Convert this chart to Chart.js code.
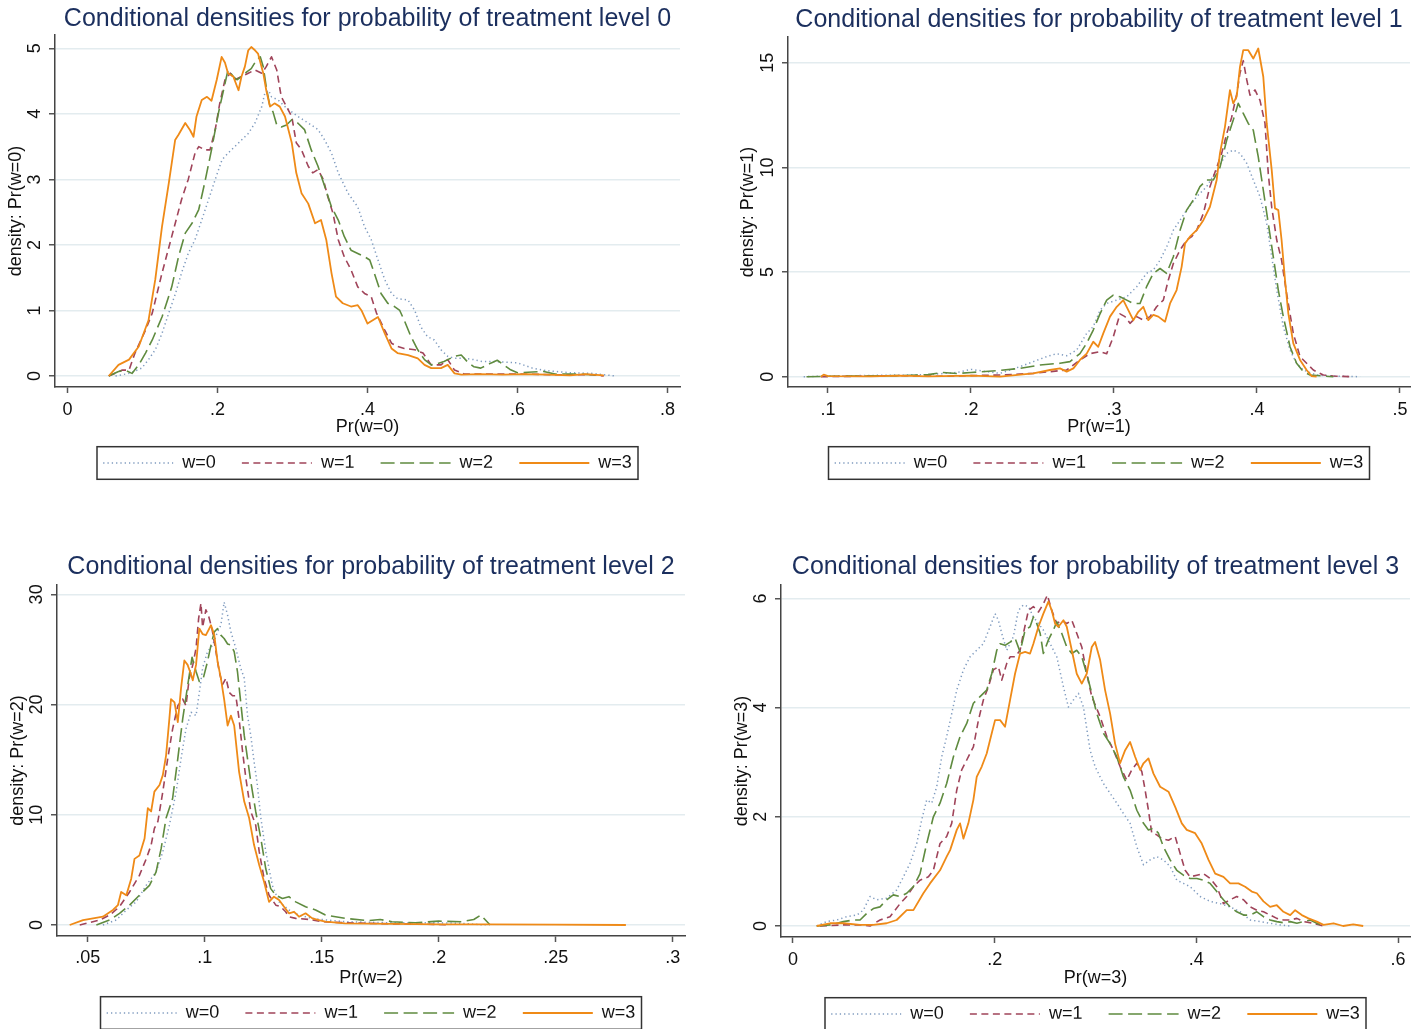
<!DOCTYPE html>
<html><head><meta charset="utf-8">
<script src="https://cdn.jsdelivr.net/npm/chart.js@4.4.1/dist/chart.umd.min.js"></script>
<style>
html,body{margin:0;padding:0;background:#fff;}
body{width:1420px;height:1029px;position:relative;overflow:hidden;}
canvas{position:absolute;}
</style></head><body>
<canvas id="c0" width="715" height="500" style="left:0px;top:0px"></canvas>
<canvas id="c1" width="705" height="500" style="left:715px;top:0px"></canvas>
<canvas id="c2" width="715" height="489" style="left:0px;top:540px"></canvas>
<canvas id="c3" width="705" height="489" style="left:715px;top:540px"></canvas>
<script>
// ---------- texts ----------
const seriesLabels = ['w=0', 'w=1', 'w=2', 'w=3'];
const panelTitles = [
  'Conditional densities for probability of treatment level 0',
  'Conditional densities for probability of treatment level 1',
  'Conditional densities for probability of treatment level 2',
  'Conditional densities for probability of treatment level 3'
];
const xTitles = ['Pr(w=0)', 'Pr(w=1)', 'Pr(w=2)', 'Pr(w=3)'];
const yTitles = ['density: Pr(w=0)', 'density: Pr(w=1)', 'density: Pr(w=2)', 'density: Pr(w=3)'];

// ---------- tick values / labels ----------
const p0XTicks = [0, 0.2, 0.4, 0.6, 0.8];
const p0XTickLabels = ['0', '.2', '.4', '.6', '.8'];
const p0YTicks = [0, 1, 2, 3, 4, 5];
const p0YTickLabels = ['0', '1', '2', '3', '4', '5'];
const p1XTicks = [0.1, 0.2, 0.3, 0.4, 0.5];
const p1XTickLabels = ['.1', '.2', '.3', '.4', '.5'];
const p1YTicks = [0, 5, 10, 15];
const p1YTickLabels = ['0', '5', '10', '15'];
const p2XTicks = [0.05, 0.1, 0.15, 0.2, 0.25, 0.3];
const p2XTickLabels = ['.05', '.1', '.15', '.2', '.25', '.3'];
const p2YTicks = [0, 10, 20, 30];
const p2YTickLabels = ['0', '10', '20', '30'];
const p3XTicks = [0, 0.2, 0.4, 0.6];
const p3XTickLabels = ['0', '.2', '.4', '.6'];
const p3YTicks = [0, 2, 4, 6];
const p3YTickLabels = ['0', '2', '4', '6'];

// ---------- panel 0 : Pr(w=0) ----------
const p0_w0 = [[0.064,0],[0.082,0.04],[0.099,0.12],[0.108,0.25],[0.117,0.4],[0.126,0.65],[0.135,0.96],[0.144,1.26],[0.152,1.57],[0.161,1.87],[0.170,2.08],[0.179,2.38],[0.188,2.69],[0.197,3.0],[0.206,3.3],[0.214,3.4],[0.223,3.5],[0.232,3.6],[0.241,3.7],[0.250,3.86],[0.259,4.11],[0.263,4.31],[0.268,4.36],[0.272,4.26],[0.281,4.21],[0.290,4.11],[0.299,4.03],[0.307,3.96],[0.321,3.86],[0.334,3.76],[0.343,3.6],[0.352,3.4],[0.361,3.1],[0.374,2.79],[0.387,2.58],[0.396,2.28],[0.405,2.08],[0.414,1.77],[0.423,1.47],[0.432,1.26],[0.440,1.18],[0.454,1.16],[0.463,1.0],[0.471,0.75],[0.480,0.6],[0.489,0.55],[0.498,0.4],[0.507,0.3],[0.516,0.27],[0.529,0.27],[0.542,0.25],[0.553,0.22],[0.570,0.22],[0.600,0.2],[0.620,0.12],[0.640,0.08],[0.670,0.05],[0.700,0.04],[0.730,0]];
const p0_w1 = [[0.055,0],[0.073,0.09],[0.082,0.09],[0.090,0.35],[0.104,0.7],[0.113,0.96],[0.126,1.57],[0.139,2.13],[0.152,2.69],[0.161,3.0],[0.170,3.4],[0.175,3.5],[0.183,3.45],[0.190,3.45],[0.197,3.76],[0.203,4.16],[0.210,4.52],[0.217,4.62],[0.223,4.52],[0.232,4.57],[0.241,4.62],[0.250,4.67],[0.259,4.62],[0.265,4.72],[0.272,4.87],[0.279,4.67],[0.285,4.26],[0.292,4.11],[0.299,3.96],[0.305,3.56],[0.312,3.45],[0.321,3.2],[0.327,3.1],[0.334,3.15],[0.341,3.0],[0.347,2.74],[0.354,2.48],[0.361,2.08],[0.369,1.82],[0.378,1.62],[0.387,1.36],[0.396,1.26],[0.405,1.21],[0.412,0.96],[0.423,0.7],[0.432,0.5],[0.440,0.45],[0.449,0.42],[0.463,0.4],[0.474,0.35],[0.485,0.17],[0.498,0.17],[0.507,0.25],[0.516,0.09],[0.529,0.03],[0.550,0.03],[0.600,0.03],[0.650,0.02],[0.700,0.02],[0.715,0]];
const p0_w2 = [[0.055,0],[0.068,0.07],[0.077,0.09],[0.086,0.04],[0.095,0.17],[0.104,0.35],[0.113,0.55],[0.126,0.9],[0.139,1.36],[0.148,1.82],[0.157,2.18],[0.166,2.33],[0.175,2.54],[0.183,2.95],[0.192,3.45],[0.201,4.0],[0.208,4.36],[0.214,4.67],[0.221,4.57],[0.226,4.52],[0.232,4.57],[0.239,4.64],[0.245,4.69],[0.252,4.82],[0.257,4.87],[0.261,4.72],[0.265,4.41],[0.270,4.11],[0.274,4.03],[0.279,3.83],[0.285,3.8],[0.292,3.83],[0.299,3.91],[0.307,3.86],[0.316,3.76],[0.325,3.45],[0.334,3.2],[0.343,2.89],[0.352,2.58],[0.361,2.38],[0.369,2.13],[0.378,1.92],[0.387,1.87],[0.396,1.82],[0.403,1.77],[0.409,1.57],[0.418,1.26],[0.427,1.11],[0.436,1.06],[0.443,1.0],[0.449,0.85],[0.458,0.6],[0.467,0.4],[0.476,0.25],[0.485,0.17],[0.494,0.19],[0.502,0.22],[0.516,0.3],[0.525,0.32],[0.533,0.22],[0.542,0.14],[0.551,0.12],[0.565,0.2],[0.573,0.24],[0.590,0.1],[0.600,0.05],[0.620,0.06],[0.635,0.07],[0.650,0.03],[0.680,0.03],[0.700,0.02],[0.710,0]];
const p0_w3 = [[0.055,0],[0.068,0.17],[0.082,0.25],[0.095,0.45],[0.108,0.85],[0.117,1.47],[0.126,2.28],[0.135,2.94],[0.1435,3.6],[0.148,3.68],[0.157,3.86],[0.1635,3.75],[0.168,3.65],[0.172,3.96],[0.179,4.21],[0.186,4.26],[0.192,4.2],[0.199,4.52],[0.2055,4.87],[0.210,4.78],[0.214,4.62],[0.221,4.57],[0.228,4.36],[0.232,4.57],[0.2365,4.72],[0.241,4.97],[0.245,5.02],[0.250,4.97],[0.254,4.92],[0.261,4.62],[0.265,4.36],[0.270,4.11],[0.276,4.16],[0.283,4.11],[0.290,3.96],[0.299,3.56],[0.305,3.1],[0.312,2.79],[0.321,2.63],[0.330,2.33],[0.338,2.38],[0.345,2.08],[0.352,1.57],[0.358,1.21],[0.367,1.11],[0.378,1.06],[0.387,1.08],[0.392,1.0],[0.400,0.8],[0.407,0.85],[0.414,0.9],[0.423,0.65],[0.432,0.42],[0.440,0.35],[0.454,0.32],[0.467,0.27],[0.476,0.17],[0.485,0.12],[0.498,0.12],[0.507,0.17],[0.516,0.04],[0.525,0.02],[0.550,0.03],[0.580,0.02],[0.610,0.03],[0.640,0.02],[0.670,0.01],[0.690,0.03],[0.715,0.01]];

// ---------- panel 1 : Pr(w=1) ----------
const p1_w0 = [[0.083,0],[0.100,0.03],[0.120,0.05],[0.150,0.08],[0.170,0.1],[0.190,0.2],[0.200,0.35],[0.210,0.25],[0.2203,0.16],[0.2343,0.48],[0.2436,0.72],[0.2529,0.96],[0.2599,1.1],[0.2669,1.0],[0.2739,1.27],[0.2809,2.07],[0.2855,2.39],[0.2902,3.18],[0.2949,3.5],[0.3019,3.66],[0.3089,3.82],[0.3159,4.3],[0.3228,4.94],[0.3275,5.1],[0.3322,5.57],[0.3368,6.2],[0.3415,7.0],[0.3462,7.48],[0.3508,7.96],[0.3578,8.6],[0.3648,9.08],[0.3718,9.87],[0.3788,10.67],[0.3834,10.83],[0.3881,10.67],[0.3928,10.2],[0.3974,9.4],[0.4021,8.6],[0.4068,7.32],[0.4103,5.73],[0.4138,4.14],[0.4184,2.39],[0.4231,1.27],[0.4277,0.64],[0.4324,0.32],[0.4417,0.08],[0.4534,0.03],[0.4721,0]];
const p1_w1 = [[0.095,0],[0.130,0.03],[0.150,0.05],[0.180,0.02],[0.200,0.05],[0.2203,0.08],[0.2436,0.16],[0.2669,0.32],[0.2762,0.8],[0.2832,1.1],[0.2902,1.2],[0.2949,1.1],[0.2995,1.9],[0.3042,3.0],[0.3077,2.87],[0.3112,2.55],[0.3159,2.87],[0.3205,2.7],[0.3252,2.87],[0.3298,3.34],[0.3345,3.66],[0.3380,4.62],[0.3415,5.41],[0.3462,6.05],[0.3508,6.53],[0.3543,6.69],[0.3578,7.0],[0.3625,7.8],[0.3671,9.08],[0.3718,10.0],[0.3753,10.67],[0.3788,11.6],[0.3823,12.4],[0.3858,13.5],[0.3881,14.5],[0.3904,15.1],[0.3928,14.2],[0.3951,13.45],[0.3986,13.7],[0.4021,13.2],[0.4056,12.1],[0.4079,9.7],[0.4103,8.1],[0.4138,6.53],[0.4172,5.57],[0.4207,3.98],[0.4254,2.07],[0.4301,0.96],[0.4347,0.64],[0.4394,0.32],[0.4464,0.08],[0.4534,0.03],[0.4650,0]];
const p1_w2 = [[0.085,0],[0.100,0.02],[0.120,0.03],[0.150,0.05],[0.170,0.1],[0.180,0.2],[0.190,0.15],[0.200,0.2],[0.210,0.25],[0.2203,0.3],[0.2343,0.4],[0.2483,0.56],[0.2622,0.64],[0.2692,0.72],[0.2762,1.1],[0.2809,1.6],[0.2855,2.23],[0.2902,3.0],[0.2949,3.66],[0.2995,3.9],[0.3042,3.82],[0.3089,3.66],[0.3135,3.5],[0.3182,3.5],[0.3228,4.3],[0.3275,4.94],[0.3322,5.17],[0.3368,4.94],[0.3415,5.73],[0.3462,7.0],[0.3508,7.96],[0.3555,8.44],[0.3601,9.08],[0.3648,9.4],[0.3695,9.4],[0.3741,10.0],[0.3788,11.3],[0.3834,12.26],[0.3869,13.06],[0.3904,12.58],[0.3939,12.1],[0.3974,11.78],[0.4009,10.5],[0.4044,8.92],[0.4079,7.32],[0.4114,5.73],[0.4149,4.14],[0.4184,2.87],[0.4231,1.43],[0.4277,0.64],[0.4324,0.24],[0.4371,0.08],[0.4534,0]];
const p1_w3 = [[0.095,0],[0.097,0.1],[0.100,0.03],[0.130,0.02],[0.150,0.05],[0.170,0.02],[0.200,0.05],[0.2203,0.0],[0.2436,0.16],[0.2552,0.32],[0.2622,0.4],[0.2669,0.24],[0.2716,0.4],[0.2762,0.8],[0.2809,1.1],[0.2855,1.67],[0.2890,1.43],[0.2925,2.07],[0.2972,2.87],[0.3019,3.34],[0.3065,3.66],[0.3100,3.18],[0.3135,2.7],[0.3170,3.1],[0.3205,3.34],[0.3240,2.7],[0.3275,2.95],[0.3310,2.87],[0.3357,2.63],[0.3392,3.5],[0.3438,4.14],[0.3473,5.25],[0.3497,6.37],[0.3531,6.69],[0.3578,7.0],[0.3625,7.48],[0.3671,8.12],[0.3718,9.4],[0.3741,10.67],[0.3776,11.94],[0.3811,13.69],[0.3834,13.06],[0.3858,13.38],[0.3881,14.8],[0.3904,15.6],[0.3939,15.6],[0.3974,15.2],[0.4009,15.68],[0.4044,14.33],[0.4068,12.1],[0.4103,9.87],[0.4126,8.04],[0.4149,7.96],[0.4172,6.53],[0.4196,4.62],[0.4219,3.03],[0.4254,1.59],[0.4301,0.8],[0.4347,0.32],[0.4382,0.03],[0.4417,0]];

// ---------- panel 2 : Pr(w=2) ----------
const p2_w0 = [[0.0565,0],[0.0622,0.45],[0.0665,1.36],[0.0707,2.1],[0.0750,3.6],[0.0792,4.8],[0.0821,6.65],[0.0849,9.06],[0.0878,12.1],[0.0899,15.1],[0.0920,17.8],[0.0942,19.3],[0.0963,19.0],[0.0977,21.1],[0.0991,23.3],[0.1012,24.8],[0.1034,25.4],[0.1055,26.6],[0.1069,27.2],[0.1083,29.3],[0.1098,28.1],[0.1112,26.6],[0.1133,25.1],[0.1154,23.3],[0.1169,22.4],[0.1183,19.0],[0.1197,17.2],[0.1211,14.8],[0.1225,12.7],[0.1240,9.7],[0.1261,6.65],[0.1289,3.6],[0.1318,2.1],[0.1360,1.36],[0.1403,0.9],[0.1460,0.6],[0.150,0.5],[0.160,0.3],[0.180,0.2],[0.200,0.2],[0.210,0.15],[0.220,0]];
const p2_w1 = [[0.0466,0],[0.0551,0.45],[0.0594,0.9],[0.0636,1.66],[0.0679,3.0],[0.0721,4.5],[0.0750,6.0],[0.0771,7.25],[0.0785,8.76],[0.0800,9.4],[0.0821,12.1],[0.0842,15.1],[0.0863,17.8],[0.0885,19.9],[0.0906,20.5],[0.0920,19.9],[0.0934,22.4],[0.0949,23.6],[0.0963,25.1],[0.0974,27.8],[0.0984,29.2],[0.0991,27.0],[0.1005,28.6],[0.1017,28.0],[0.1031,26.9],[0.1048,24.8],[0.1062,23.0],[0.1076,21.8],[0.1091,22.4],[0.1105,21.1],[0.1119,20.8],[0.1133,20.8],[0.1147,18.7],[0.1162,15.7],[0.1176,13.3],[0.1197,10.3],[0.1218,9.06],[0.1233,6.65],[0.1254,4.2],[0.1275,2.7],[0.1304,1.8],[0.1325,1.66],[0.1346,1.2],[0.1360,0.75],[0.1389,0.6],[0.145,0.5],[0.150,0.3],[0.160,0.2],[0.180,0.1],[0.200,0.05],[0.205,0]];
const p2_w2 = [[0.0537,0],[0.0594,0.45],[0.0636,1.06],[0.0679,1.8],[0.0721,2.7],[0.0764,3.6],[0.0792,4.8],[0.0814,6.95],[0.0835,9.7],[0.0863,11.5],[0.0885,15.1],[0.0906,18.7],[0.0927,21.7],[0.0946,24.3],[0.0963,23.0],[0.0977,22.1],[0.0994,22.4],[0.1012,23.9],[0.1027,25.4],[0.1041,26.6],[0.1055,26.9],[0.1069,26.3],[0.1083,26.0],[0.1098,25.5],[0.1112,25.4],[0.1126,24.8],[0.1140,23.0],[0.1154,20.2],[0.1169,17.2],[0.1183,15.1],[0.1197,13.0],[0.1218,10.3],[0.1240,7.85],[0.1261,5.1],[0.1282,3.3],[0.1304,2.7],[0.1332,2.4],[0.1360,2.57],[0.1389,2.1],[0.1431,1.66],[0.1474,1.36],[0.1516,0.9],[0.160,0.6],[0.170,0.4],[0.175,0.5],[0.180,0.3],[0.190,0.2],[0.200,0.35],[0.210,0.3],[0.215,0.5],[0.218,0.9],[0.222,0]];
const p2_w3 = [[0.0423,0],[0.0480,0.45],[0.0523,0.6],[0.0565,0.75],[0.0608,1.36],[0.0629,1.8],[0.0643,3.0],[0.0665,2.7],[0.0686,4.2],[0.0700,6.0],[0.0721,6.3],[0.0743,7.85],[0.0757,10.6],[0.0771,10.3],[0.0785,12.1],[0.0807,12.7],[0.0821,13.6],[0.0835,15.4],[0.0849,18.7],[0.0856,20.5],[0.0871,20.2],[0.0885,18.4],[0.0899,21.5],[0.0913,24.0],[0.0927,23.6],[0.0942,22.7],[0.0949,22.2],[0.0963,23.6],[0.0977,26.9],[0.0991,26.4],[0.1005,26.3],[0.1027,27.2],[0.1041,26.3],[0.1055,23.9],[0.1069,22.4],[0.1083,20.5],[0.1098,18.1],[0.1112,19.0],[0.1126,18.1],[0.1147,13.9],[0.1169,11.2],[0.1190,9.7],[0.1211,7.25],[0.1233,5.44],[0.1254,3.9],[0.1275,2.1],[0.1296,2.57],[0.1318,2.27],[0.1339,1.66],[0.1360,1.06],[0.1382,1.2],[0.1403,0.75],[0.1431,1.06],[0.1460,0.6],[0.1488,0.45],[0.1516,0.3],[0.160,0.15],[0.180,0.1],[0.200,0.05],[0.220,0.05],[0.250,0.03],[0.280,0]];

// ---------- panel 3 : Pr(w=3) ----------
const p3_w0 = [[0.0235,0],[0.0334,0.08],[0.0433,0.11],[0.0532,0.17],[0.0632,0.2],[0.0698,0.29],[0.0764,0.54],[0.0830,0.48],[0.0929,0.51],[0.1028,0.66],[0.1095,0.9],[0.1161,1.15],[0.1227,1.51],[0.1276,1.94],[0.1326,2.31],[0.1376,2.25],[0.1425,2.55],[0.1475,3.1],[0.1524,3.47],[0.1574,3.89],[0.1624,4.32],[0.1690,4.69],[0.1756,4.93],[0.1822,5.05],[0.1888,5.17],[0.1954,5.48],[0.2004,5.72],[0.2037,5.6],[0.2070,5.36],[0.2120,5.05],[0.2186,5.3],[0.2235,5.78],[0.2285,5.88],[0.2335,5.85],[0.2384,5.66],[0.2434,5.54],[0.2483,5.42],[0.2550,5.17],[0.2616,4.93],[0.2682,4.38],[0.2731,4.01],[0.2781,4.14],[0.2831,4.26],[0.2880,4.01],[0.2946,3.22],[0.2996,2.92],[0.3046,2.73],[0.3079,2.61],[0.3145,2.43],[0.3211,2.25],[0.3277,2.06],[0.3343,1.88],[0.3410,1.45],[0.3476,1.12],[0.3542,1.21],[0.3608,1.27],[0.3674,1.21],[0.3740,1.09],[0.3806,0.84],[0.3872,0.78],[0.3938,0.72],[0.4038,0.54],[0.4137,0.45],[0.4236,0.41],[0.4335,0.35],[0.4435,0.26],[0.4534,0.11],[0.4633,0.08],[0.4732,0.05],[0.4831,0.02],[0.4931,0]];
const p3_w1 = [[0.0268,0],[0.0499,0.02],[0.0665,0.02],[0.0764,0],[0.0863,0.11],[0.0962,0.17],[0.1062,0.41],[0.1128,0.54],[0.1194,0.72],[0.1260,0.84],[0.1343,0.9],[0.1392,1.02],[0.1458,1.51],[0.1524,1.64],[0.1574,1.88],[0.1624,2.49],[0.1673,2.86],[0.1723,3.04],[0.1789,3.28],[0.1839,3.77],[0.1888,4.14],[0.1938,4.38],[0.1987,4.69],[0.2037,4.75],[0.2070,4.5],[0.2120,4.81],[0.2153,4.93],[0.2202,4.93],[0.2252,5.05],[0.2285,5.36],[0.2335,5.78],[0.2384,5.85],[0.2434,5.75],[0.2483,5.9],[0.2523,6.06],[0.2566,5.78],[0.2616,5.54],[0.2665,5.6],[0.2715,5.54],[0.2765,5.6],[0.2814,5.36],[0.2864,5.11],[0.2913,4.62],[0.2963,4.2],[0.3046,3.83],[0.3112,3.47],[0.3178,3.22],[0.3244,2.92],[0.3310,2.67],[0.3360,2.86],[0.3410,2.98],[0.3459,2.83],[0.3492,2.49],[0.3525,2.12],[0.3558,1.7],[0.3608,1.67],[0.3657,1.6],[0.3724,1.57],[0.3790,1.64],[0.3839,1.33],[0.3889,1.02],[0.3938,0.9],[0.4005,0.93],[0.4071,0.96],[0.4137,0.87],[0.4203,0.72],[0.4269,0.41],[0.4335,0.48],[0.4401,0.54],[0.4468,0.48],[0.4534,0.35],[0.4600,0.29],[0.4666,0.26],[0.4732,0.2],[0.4798,0.14],[0.4864,0.11],[0.4931,0.11],[0.4997,0.14],[0.5063,0.08],[0.5162,0.05],[0.5261,0]];
const p3_w2 = [[0.0235,0],[0.0367,0.02],[0.0499,0.08],[0.0599,0.11],[0.0665,0.11],[0.0731,0.23],[0.0797,0.32],[0.0863,0.35],[0.0929,0.48],[0.0995,0.57],[0.1062,0.54],[0.1128,0.6],[0.1194,0.72],[0.1260,0.96],[0.1326,1.51],[0.1392,2.0],[0.1458,2.25],[0.1524,2.61],[0.1591,3.1],[0.1657,3.47],[0.1723,3.71],[0.1789,4.08],[0.1855,4.2],[0.1921,4.32],[0.1971,4.62],[0.2021,5.05],[0.2054,5.17],[0.2103,5.14],[0.2153,5.2],[0.2202,5.27],[0.2252,5.02],[0.2302,5.42],[0.2351,5.48],[0.2384,5.66],[0.2417,5.54],[0.2451,5.36],[0.2483,4.99],[0.2533,5.24],[0.2583,5.42],[0.2616,5.57],[0.2665,5.36],[0.2715,5.11],[0.2765,4.99],[0.2814,5.05],[0.2864,4.93],[0.2913,4.62],[0.2963,4.26],[0.3013,3.89],[0.3079,3.53],[0.3145,3.34],[0.3211,3.1],[0.3277,2.73],[0.3343,2.49],[0.3410,2.12],[0.3476,1.88],[0.3525,1.76],[0.3575,1.79],[0.3624,1.7],[0.3674,1.45],[0.3740,1.21],[0.3806,1.02],[0.3872,0.93],[0.3938,0.87],[0.4005,0.87],[0.4071,0.84],[0.4137,0.78],[0.4203,0.63],[0.4269,0.48],[0.4335,0.35],[0.4401,0.26],[0.4468,0.2],[0.4534,0.2],[0.4600,0.26],[0.4666,0.17],[0.4732,0.11],[0.4798,0.08],[0.4864,0.06],[0.4931,0.08],[0.4997,0.05],[0.5063,0.08],[0.5129,0.11],[0.5195,0.05],[0.5261,0]];
const p3_w3 = [[0.0235,0],[0.0367,0.05],[0.0499,0.05],[0.0665,0.02],[0.0797,0.02],[0.0929,0.05],[0.1028,0.11],[0.1128,0.29],[0.1194,0.29],[0.1293,0.6],[0.1359,0.78],[0.1458,1.02],[0.1524,1.27],[0.1558,1.39],[0.1624,1.76],[0.1657,1.88],[0.1690,1.6],[0.1739,1.88],[0.1789,2.31],[0.1822,2.73],[0.1872,2.92],[0.1921,3.16],[0.1971,3.53],[0.2004,3.77],[0.2054,3.77],[0.2103,3.65],[0.2153,4.14],[0.2202,4.62],[0.2252,4.99],[0.2302,5.02],[0.2351,4.99],[0.2384,5.17],[0.2434,5.48],[0.2483,5.72],[0.2533,5.94],[0.2566,5.78],[0.2599,5.54],[0.2632,5.48],[0.2682,5.6],[0.2715,5.48],[0.2765,5.05],[0.2814,4.62],[0.2864,4.44],[0.2913,4.62],[0.2963,5.11],[0.2996,5.2],[0.3046,4.87],[0.3095,4.32],[0.3145,3.89],[0.3194,3.34],[0.3244,2.98],[0.3294,3.22],[0.3343,3.37],[0.3393,3.1],[0.3443,2.86],[0.3476,2.98],[0.3525,3.07],[0.3575,2.79],[0.3641,2.55],[0.3724,2.46],[0.3790,2.18],[0.3856,1.88],[0.3905,1.76],[0.3988,1.7],[0.4054,1.51],[0.4121,1.21],[0.4187,0.96],[0.4269,0.9],[0.4335,0.78],[0.4418,0.78],[0.4484,0.72],[0.4550,0.63],[0.4600,0.6],[0.4666,0.45],[0.4732,0.35],[0.4798,0.38],[0.4864,0.26],[0.4931,0.2],[0.4980,0.29],[0.5046,0.2],[0.5112,0.14],[0.5195,0.08],[0.5261,0.02],[0.5361,0.05],[0.5456,0],[0.5556,0.03],[0.5655,0]];

// ---------- styles ----------
const seriesStyles = [
  {color: '#7f9bbf', dash: [1.3, 3], width: 1.5},
  {color: '#a0445a', dash: [7, 4.5], width: 1.6},
  {color: '#5f8b3f', dash: [14, 5.5], width: 1.6},
  {color: '#ef8a17', dash: [], width: 1.8}
];

Chart.defaults.font.family = '"Liberation Sans", Arial, Helvetica, sans-serif';
Chart.defaults.color = '#111';

// frame around legend + dashed legend samples (drawn at the legend's own item boxes)
const legendFrame = {
  id: 'legendFrame',
  afterDraw(chart) {
    const lg = chart.legend;
    if (!lg) return;
    const lo = chart.options.plugins.legend.labels;
    const cy = lg.top + lo.padding + 9;
    const cx = (lg.left + lg.right) / 2;
    const ctx = chart.ctx;
    ctx.save();
    ctx.strokeStyle = '#333';
    ctx.lineWidth = 1.5;
    ctx.setLineDash([]);
    ctx.strokeRect(cx - 270.5, cy - 16.3, 541, 32.6);
    (lg.legendItems || []).forEach((it, k) => {
      const hb = lg.legendHitBoxes[k];
      const st = seriesStyles[it.datasetIndex];
      if (!hb || !st) return;
      ctx.beginPath();
      ctx.setLineDash(st.dash);
      ctx.strokeStyle = st.color;
      ctx.lineWidth = st.width;
      ctx.moveTo(hb.left, hb.top + 9);
      ctx.lineTo(hb.left + 70, hb.top + 9);
      ctx.stroke();
    });
    ctx.restore();
  }
};

function makePanel(id, series, xT, xL, yT, yL, title, xTitle, yTitle, L) {
  return new Chart(document.getElementById(id), {
    type: 'line',
    data: {
      datasets: series.map((d, i) => ({
        label: seriesLabels[i],
        data: d,
        borderColor: seriesStyles[i].color,
        backgroundColor: seriesStyles[i].color,
        borderDash: seriesStyles[i].dash,
        borderWidth: seriesStyles[i].width,
        borderJoinStyle: 'round',
        pointRadius: 0,
        tension: 0,
        fill: false,
        order: 4 - i
      }))
    },
    options: {
      responsive: false,
      animation: false,
      events: [],
      layout: {padding: L.pad, autoPadding: false},
      plugins: {
        title: {display: true, text: title, color: '#1b2f5e', fullSize: false,
          font: {size: 25, weight: 'normal'}, padding: L.titlePad},
        legend: {display: true, position: 'bottom', fullSize: false, maxHeight: 40,
          labels: {usePointStyle: true, pointStyle: 'line', pointStyleWidth: 70,
            padding: 26.2, font: {size: 18}, color: '#111',
            generateLabels: chart => Chart.defaults.plugins.legend.labels.generateLabels(chart)
              .map(it => Object.assign(it, {strokeStyle: 'rgba(0,0,0,0)', fillStyle: 'rgba(0,0,0,0)'})),
            sort: (a, b) => a.datasetIndex - b.datasetIndex}},
        tooltip: {enabled: false}
      },
      scales: {
        x: {
          type: 'linear', min: L.xMin, max: L.xMax,
          afterBuildTicks: s => { s.ticks = xT.map(v => ({value: v})); },
          afterFit: s => { s.height = L.xHeight; },
          ticks: {callback: (v, i) => xL[i], autoSkip: false, minRotation: 0, maxRotation: 0,
            padding: L.xTickPad, font: {size: 18}, color: '#111'},
          grid: {drawOnChartArea: false, drawTicks: true, tickLength: 6, tickColor: '#555', tickWidth: 1.5},
          border: {display: true, color: '#444', width: 1.5},
          title: {display: true, text: xTitle, font: {size: 18}, color: '#111',
            padding: {top: 0, bottom: L.xTitlePadBottom}}
        },
        y: {
          type: 'linear', min: L.yMin, max: L.yMax,
          afterBuildTicks: s => { s.ticks = yT.map(v => ({value: v})); },
          afterFit: s => { s.width = L.yWidth; },
          ticks: {callback: (v, i) => yL[i], autoSkip: false, minRotation: 90, maxRotation: 90,
            crossAlign: 'center', padding: L.yTickPad, font: {size: 18}, color: '#111'},
          grid: {color: '#e3ecef', lineWidth: 1.5, drawTicks: true, tickLength: 6, tickColor: '#555', tickWidth: 1.5},
          border: {display: true, color: '#444', width: 1.5},
          title: {display: true, text: yTitle, font: {size: 18}, color: '#111',
            padding: {top: L.yTitlePadTop, bottom: 0}}
        }
      }
    },
    plugins: [legendFrame]
  });
}

makePanel('c0', [p0_w0, p0_w1, p0_w2, p0_w3], p0XTicks, p0XTickLabels, p0YTicks, p0YTickLabels,
  panelTitles[0], xTitles[0], yTitles[0],
  {pad: {left: 0, right: 35, top: 0, bottom: 32.2}, titlePad: {top: 4, bottom: 1},
   yWidth: 55, xHeight: 40.8, xTickPad: 6.2, xTitlePadBottom: -10, yTickPad: 9, yTitlePadTop: 5.2,
   xMin: -0.01667, xMax: 0.81667, yMin: -0.1678, yMax: 5.203});

makePanel('c1', [p1_w0, p1_w1, p1_w2, p1_w3], p1XTicks, p1XTickLabels, p1YTicks, p1YTickLabels,
  panelTitles[1], xTitles[1], yTitles[1],
  {pad: {left: 0, right: 10, top: 0, bottom: 32.2}, titlePad: {top: 5, bottom: 2},
   yWidth: 73, xHeight: 40.8, xTickPad: 6.2, xTitlePadBottom: -10, yTickPad: 4, yTitlePadTop: 22.2,
   xMin: 0.07203, xMax: 0.507, yMin: -0.492, yMax: 16.23});

makePanel('c2', [p2_w0, p2_w1, p2_w2, p2_w3], p2XTicks, p2XTickLabels, p2YTicks, p2YTickLabels,
  panelTitles[2], xTitles[2], yTitles[2],
  {pad: {left: 0, right: 30, top: 0, bottom: 11.2}, titlePad: {top: 12, bottom: 3},
   yWidth: 57, xHeight: 41.8, xTickPad: 5.2, xTitlePadBottom: -11, yTickPad: 4, yTitlePadTop: 7.2,
   xMin: 0.03688, xMax: 0.30526, yMin: -0.998, yMax: 30.85});

makePanel('c3', [p3_w0, p3_w1, p3_w2, p3_w3], p3XTicks, p3XTickLabels, p3YTicks, p3YTickLabels,
  panelTitles[3], xTitles[3], yTitles[3],
  {pad: {left: 0, right: 10, top: 0, bottom: 10.2}, titlePad: {top: 12, bottom: 3},
   yWidth: 66, xHeight: 41.8, xTickPad: 6.2, xTitlePadBottom: -10, yTickPad: 9, yTitlePadTop: 16.2,
   xMin: -0.0119, xMax: 0.6119, yMin: -0.2015, yMax: 6.245});
</script>
</body></html>
